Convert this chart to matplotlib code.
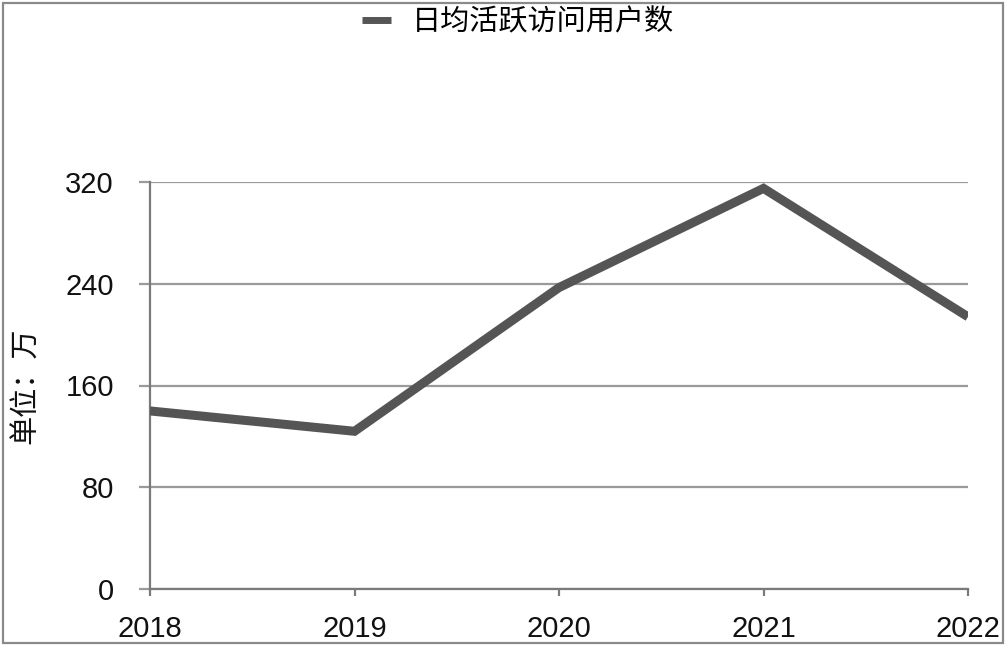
import matplotlib
matplotlib.use("Agg")
import matplotlib.pyplot as plt
from matplotlib.patches import Rectangle

plt.rcParams['font.family'] = ['Liberation Sans', 'Noto Sans CJK SC', 'DejaVu Sans']

years = ["2018", "2019", "2020", "2021", "2022"]
users = [140, 124, 237, 315, 214]
yticks = [0, 80, 160, 240, 320]
series_name = "日均活跃访问用户数"
ylabel = "单位：万"

fig = plt.figure(figsize=(10.08, 6.5), dpi=100)
ax = fig.add_axes([150/1008, 1-589/650, (968-150)/1008, (589-182)/650])

x = list(range(len(years)))
ax.plot(x, users, color="#555555", linewidth=6.5, solid_joinstyle="miter",
        solid_capstyle="butt", label=series_name, zorder=3)

ax.set_xlim(0, len(years)-1)
ax.set_ylim(0, 320)
ax.set_xticks(x)
ax.set_xticklabels(years)
ax.set_yticks(yticks)
ax.set_yticklabels([str(v) for v in yticks])

gc = "#9a9a9a"
ax.yaxis.grid(True, color=gc, linewidth=1.6, zorder=1)
ax.xaxis.grid(False)
for s in ["top", "right"]:
    ax.spines[s].set_visible(False)
for s in ["left", "bottom"]:
    ax.spines[s].set_color("#7a7a7a")
    ax.spines[s].set_linewidth(1.6)

ax.tick_params(axis="y", direction="out", length=8, width=1.6, color=gc,
               pad=18, labelsize=21, labelcolor="#111111")
ax.tick_params(axis="x", direction="out", length=5, width=1.6, color="#7a7a7a",
               pad=14, labelsize=21, labelcolor="#111111")

ax.set_ylabel(ylabel, fontsize=21, color="#111111", labelpad=18)

leg = fig.legend(loc="center", bbox_to_anchor=(518/1008, 1-22/650), frameon=False,
                 fontsize=21, handlelength=1.0, handletextpad=0.7)
for h in leg.get_lines():
    h.set_linewidth(5)

fig.patches.append(Rectangle((3/1008, 7/650), 1000/1008, 640/650,
                             transform=fig.transFigure, fill=False,
                             edgecolor="#8a8a8a", linewidth=1.6))

fig.savefig("out.png", dpi=100, facecolor="white")
